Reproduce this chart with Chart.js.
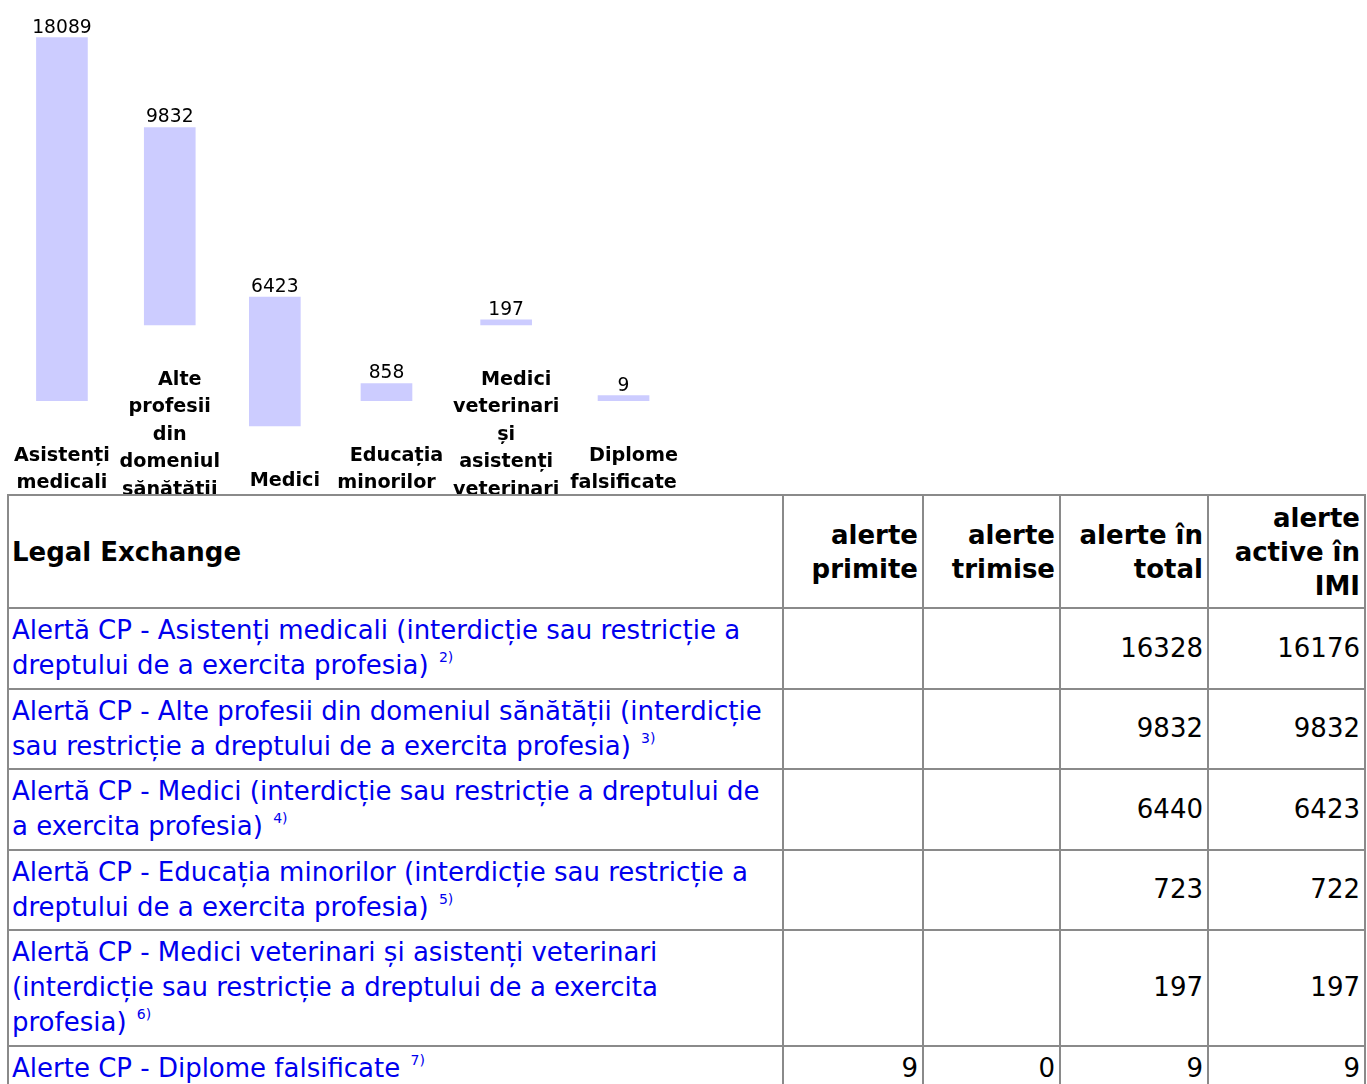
<!DOCTYPE html>
<html lang="ro">
<head>
<meta charset="utf-8">
<title>Alerte IMI - Legal Exchange</title>
<script src="https://cdn.jsdelivr.net/npm/chart.js@4.4.1/dist/chart.umd.min.js"></script>
<style>
    html, body { margin: 0; padding: 0; background: #fff; }
    body { font-family: 'DejaVu Sans', sans-serif; color: #000; }
    #chart-container { position: relative; width: 700px; height: 494px; overflow: hidden; }
    #chart { display: block; }
    #alert-table {
        border-collapse: collapse;
        table-layout: fixed;
        margin-left: 7px;
        width: 1357px;
        font-size: 26px;
        line-height: 35px;
    }
    #alert-table th, #alert-table td {
        border: 2px solid #8a8a8a;
        padding: 4.25px 4px 4.25px 3px;
        vertical-align: middle;
    }
    #alert-table th { text-align: right; font-weight: bold; line-height: 34px; padding-top: 4.5px; padding-bottom: 4.5px; }
    #alert-table th.first { text-align: left; }
    #alert-table td.num { text-align: right; }
    #alert-table a { color: #0000ee; text-decoration: none; }
    #alert-table sup { font-size: 14px; line-height: 0; vertical-align: 12px; margin-left: 2px; }
</style>
</head>
<body>
<div id="chart-container"><canvas id="chart" width="700" height="494"></canvas></div>
<table id="alert-table">
    <colgroup>
        <col style="width:775px"><col style="width:140px"><col style="width:137px"><col style="width:148px"><col style="width:157px">
    </colgroup>
    <thead><tr id="head-row"></tr></thead>
    <tbody id="table-body"></tbody>
</table>
<script>
// chart data
const categories = ['Asistenți medicali', 'Alte profesii din domeniul sănătății', 'Medici', 'Educația minorilor', 'Medici veterinari și asistenți veterinari', 'Diplome falsificate'];
const activeAlerts = [18089, 9832, 6423, 858, 197, 9];

// table data
const tableHeaders = ['Legal Exchange', 'alerte primite', 'alerte trimise', 'alerte în total', 'alerte active în IMI'];
const rowLabels = [
    'Alertă CP - Asistenți medicali (interdicție sau restricție a dreptului de a exercita profesia)',
    'Alertă CP - Alte profesii din domeniul sănătății (interdicție sau restricție a dreptului de a exercita profesia)',
    'Alertă CP - Medici (interdicție sau restricție a dreptului de a exercita profesia)',
    'Alertă CP - Educația minorilor (interdicție sau restricție a dreptului de a exercita profesia)',
    'Alertă CP - Medici veterinari și asistenți veterinari (interdicție sau restricție a dreptului de a exercita profesia)',
    'Alerte CP - Diplome falsificate'
];
const rowNotes = ['2)', '3)', '4)', '5)', '6)', '7)'];
const received = [null, null, null, null, null, 9];
const sent = [null, null, null, null, null, 0];
const totals = [16328, 9832, 6440, 723, 197, 9];
const activeInImi = [16176, 9832, 6423, 722, 197, 9];

const labelFont = 'bold 19.2px "DejaVu Sans"';
const valueFont = '18.7px "DejaVu Sans"';
const chartWidth = 700;
const chartHeight = 494;
const pxPerAlert = 0.02007;
const firstLineIndent = 20;
const columnGap = 9.7;
const firstColumnLeft = 14;
const lineHeight = 27.5;

// every word of a label sits on its own line, like the narrow wiki columns
const labelLines = categories.map(c => c.split(' '));

const measureCtx = document.createElement('canvas').getContext('2d');
measureCtx.font = labelFont;

const columnWidths = labelLines.map((words, i) => {
    const indent = i === 0 ? 0 : firstLineIndent;
    return Math.max(...words.map((w, j) => measureCtx.measureText(w).width + (j === 0 ? indent : 0)));
});

const columnCenters = [];
let left = firstColumnLeft;
columnWidths.forEach(w => {
    columnCenters.push(left + w / 2);
    left += w + columnGap;
});

const firstBaseline = (lines) => 486 - (lines - 1) * 25.3;
const barBottom = (lines) => firstBaseline(lines) - 60;
const baseValues = labelLines.map(words => (chartHeight - barBottom(words.length)) / pxPerAlert);

const barLabels = {
    id: 'barLabels',
    afterDatasetsDraw(chart) {
        const { ctx } = chart;
        const meta = chart.getDatasetMeta(0);
        ctx.save();
        ctx.fillStyle = '#000';
        ctx.textAlign = 'center';
        ctx.textBaseline = 'alphabetic';
        meta.data.forEach((bar, i) => {
            ctx.font = valueFont;
            ctx.fillText(String(activeAlerts[i]), bar.x, bar.y - 5);
            ctx.font = labelFont;
            const lines = labelLines[i];
            const top = firstBaseline(lines.length);
            lines.forEach((word, j) => {
                const shift = (j === 0 && i > 0) ? firstLineIndent / 2 : 0;
                ctx.fillText(word, bar.x + shift, top + j * lineHeight);
            });
        });
        ctx.restore();
    }
};

const chart = new Chart(document.getElementById('chart'), {
    type: 'bar',
    data: {
        datasets: [{
            label: 'alerte active',
            data: activeAlerts.map((v, i) => ({ x: columnCenters[i], y: [baseValues[i], baseValues[i] + v] })),
            backgroundColor: '#ccccff',
            borderWidth: 0,
            barThickness: 51,
            minBarLength: 5
        }]
    },
    options: {
        responsive: false,
        animation: false,
        layout: { padding: 0 },
        scales: {
            x: { type: 'linear', min: 0, max: chartWidth, offset: false, display: false },
            y: { min: 0, max: chartHeight / pxPerAlert, display: false }
        },
        plugins: {
            legend: { display: false },
            tooltip: { enabled: false }
        }
    },
    plugins: [barLabels]
});

// table
const headRow = document.getElementById('head-row');
tableHeaders.forEach((h, i) => {
    const th = document.createElement('th');
    if (i === 0) th.className = 'first';
    th.textContent = h;
    headRow.appendChild(th);
});

const tableBody = document.getElementById('table-body');
rowLabels.forEach((label, i) => {
    const tr = document.createElement('tr');
    const cells = [received[i], sent[i], totals[i], activeInImi[i]]
        .map(v => `<td class="num">${v === null ? '' : v}</td>`).join('');
    tr.innerHTML = `<td><a href="#">${label}</a> <sup><a href="#">${rowNotes[i]}</a></sup></td>${cells}`;
    tableBody.appendChild(tr);
});
</script>
</body>
</html>
